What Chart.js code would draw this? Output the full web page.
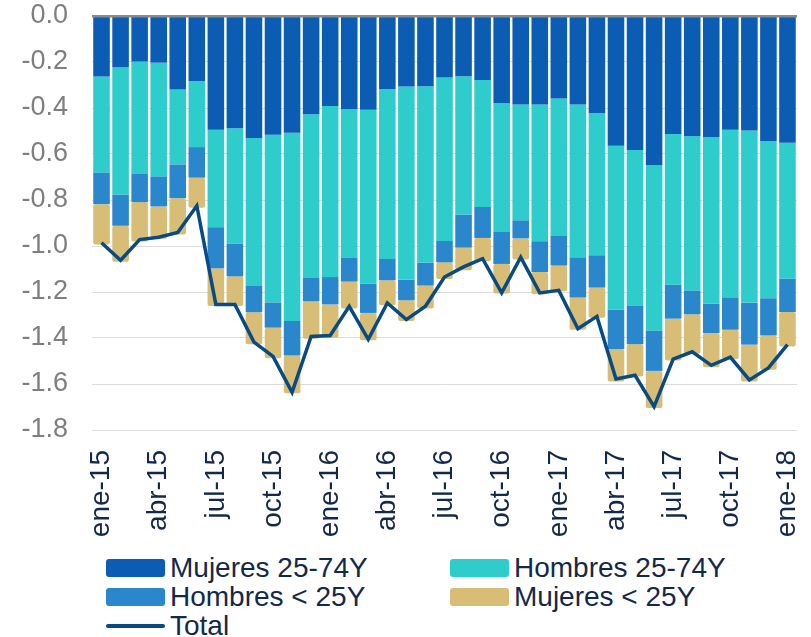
<!DOCTYPE html>
<html>
<head>
<meta charset="utf-8">
<script src="https://cdn.jsdelivr.net/npm/chart.js@4.4.1/dist/chart.umd.min.js"></script>
<style>
  body { margin: 0; background: #fff; font-family: "Liberation Sans", Arial, sans-serif; }
  .wrap { position: relative; width: 811px; height: 637px; }
  .chart-box { position: absolute; left: 0; top: 0; width: 811px; height: 545px; }
  .legend { position: absolute; left: 106px; top: 553px; display: grid; grid-template-columns: 344px auto; }
  .legend-item { display: flex; align-items: center; height: 29px; font-size: 28px; color: #14284b; line-height: 29px; }
  .legend-swatch { width: 59px; height: 18px; border-radius: 3px; margin-right: 5px; }
  .legend-line { width: 59px; height: 4px; margin-right: 5px; border-radius: 2px; }
</style>
</head>
<body>
<div class="wrap">
  <div class="chart-box"><canvas id="empleoChart"></canvas></div>
  <div class="legend" id="legend"></div>
</div>
<script>
// Months, ene-15 .. ene-18
const months = [
  'ene-15','feb-15','mar-15','abr-15','may-15','jun-15','jul-15','ago-15','sep-15','oct-15','nov-15','dic-15',
  'ene-16','feb-16','mar-16','abr-16','may-16','jun-16','jul-16','ago-16','sep-16','oct-16','nov-16','dic-16',
  'ene-17','feb-17','mar-17','abr-17','may-17','jun-17','jul-17','ago-17','sep-17','oct-17','nov-17','dic-17',
  'ene-18'
];

const mujeres2574 = [
  -0.263, -0.222, -0.198, -0.203, -0.320, -0.283, -0.495, -0.488, -0.530, -0.516, -0.508, -0.427,
  -0.391, -0.405, -0.408, -0.318, -0.307, -0.305, -0.267, -0.262, -0.278, -0.378, -0.385, -0.385,
  -0.359, -0.385, -0.423, -0.564, -0.583, -0.649, -0.513, -0.523, -0.526, -0.495, -0.498, -0.543,
  -0.551
];

const hombres2574 = [
  -0.417, -0.554, -0.489, -0.494, -0.325, -0.287, -0.423, -0.501, -0.644, -0.729, -0.818, -0.712,
  -0.744, -0.647, -0.756, -0.738, -0.839, -0.767, -0.711, -0.601, -0.552, -0.561, -0.503, -0.594,
  -0.597, -0.664, -0.617, -0.713, -0.675, -0.718, -0.655, -0.670, -0.725, -0.728, -0.748, -0.684,
  -0.591
];

const hombresMenos25 = [
  -0.138, -0.136, -0.122, -0.131, -0.147, -0.133, -0.179, -0.143, -0.114, -0.110, -0.150, -0.102,
  -0.119, -0.103, -0.127, -0.093, -0.090, -0.100, -0.093, -0.144, -0.135, -0.139, -0.079, -0.134,
  -0.129, -0.175, -0.141, -0.171, -0.169, -0.176, -0.148, -0.104, -0.128, -0.141, -0.183, -0.162,
  -0.145
];

const mujeresMenos25 = [
  -0.176, -0.157, -0.171, -0.141, -0.158, -0.131, -0.164, -0.129, -0.139, -0.133, -0.164, -0.162,
  -0.145, -0.117, -0.119, -0.109, -0.090, -0.100, -0.072, -0.098, -0.101, -0.129, -0.092, -0.097,
  -0.112, -0.140, -0.131, -0.141, -0.140, -0.161, -0.182, -0.172, -0.148, -0.128, -0.160, -0.149,
  -0.150
];

const total = [
  -0.986, -1.062, -0.972, -0.962, -0.941, -0.825, -1.254, -1.254, -1.418, -1.480, -1.636, -1.393,
  -1.389, -1.262, -1.406, -1.248, -1.320, -1.262, -1.135, -1.091, -1.055, -1.204, -1.049, -1.204,
  -1.193, -1.360, -1.306, -1.578, -1.562, -1.698, -1.492, -1.460, -1.519, -1.483, -1.582, -1.530,
  -1.429
];

const yMin = -1.8;
const yMax = 0;
const yStep = 0.2;

const colors = {
  mujeres2574: '#0b5db3',
  hombres2574: '#2ecccb',
  hombresMenos25: '#2a87cb',
  mujeresMenos25: '#d7bd76',
  total: '#084a84'
};

Chart.defaults.font.family = '"Liberation Sans", Arial, sans-serif';

function barSet(label, data, color) {
  return {
    label: label,
    data: data,
    backgroundColor: color,
    borderWidth: 0,
    borderRadius: 2,
    borderSkipped: false,
    stack: 'bars',
    order: 1,
    categoryPercentage: 1.0,
    barPercentage: 0.87
  };
}

const datasets = [
  barSet('Mujeres 25-74Y', mujeres2574, colors.mujeres2574),
  barSet('Hombres 25-74Y', hombres2574, colors.hombres2574),
  barSet('Hombres < 25Y', hombresMenos25, colors.hombresMenos25),
  barSet('Mujeres < 25Y', mujeresMenos25, colors.mujeresMenos25),
  {
    type: 'line',
    label: 'Total',
    data: total,
    borderColor: colors.total,
    backgroundColor: colors.total,
    borderWidth: 3.5,
    pointRadius: 0,
    tension: 0,
    stack: 'line',
    order: 0
  }
];

const ctx = document.getElementById('empleoChart').getContext('2d');
new Chart(ctx, {
  type: 'bar',
  data: { labels: months, datasets: datasets },
  options: {
    responsive: true,
    maintainAspectRatio: false,
    animation: false,
    layout: { padding: { left: 0, right: 14, top: 16, bottom: 0 } },
    plugins: {
      legend: { display: false },
      tooltip: { enabled: false }
    },
    scales: {
      x: {
        stacked: true,
        grid: { display: false },
        border: { display: false },
        ticks: {
          autoSkip: false,
          maxRotation: 90,
          minRotation: 90,
          padding: 12,
          color: '#14284b',
          font: { size: 28 },
          callback: function(value, index) {
            return index % 3 === 0 ? months[index] : '';
          }
        },
        afterFit: function(scale) {
          scale.height = 115;
          scale.paddingLeft = 0;
          scale.paddingRight = 0;
        }
      },
      y: {
        stacked: true,
        min: yMin,
        max: yMax,
        border: { display: false },
        grid: {
          drawTicks: false,
          color: function(c) { return c.tick && c.tick.value === 0 ? '#8a8a8a' : '#dcdcdc'; },
          lineWidth: function(c) { return c.tick && c.tick.value === 0 ? 2.5 : 1; }
        },
        ticks: {
          stepSize: yStep,
          padding: 24,
          color: '#7f7f7f',
          font: { size: 27 },
          callback: function(value) { return Number(value).toFixed(1); }
        },
        afterFit: function(scale) {
          scale.width = 92;
          scale.paddingTop = 0;
          scale.paddingBottom = 0;
        }
      }
    }
  }
});

// legend in two columns like the original
const legendEl = document.getElementById('legend');
datasets.forEach(function(ds) {
  const item = document.createElement('div');
  item.className = 'legend-item';
  const mark = document.createElement('span');
  mark.className = ds.type === 'line' ? 'legend-line' : 'legend-swatch';
  mark.style.background = ds.type === 'line' ? ds.borderColor : ds.backgroundColor;
  const text = document.createElement('span');
  text.textContent = ds.label;
  item.appendChild(mark);
  item.appendChild(text);
  legendEl.appendChild(item);
});
</script>
</body>
</html>
